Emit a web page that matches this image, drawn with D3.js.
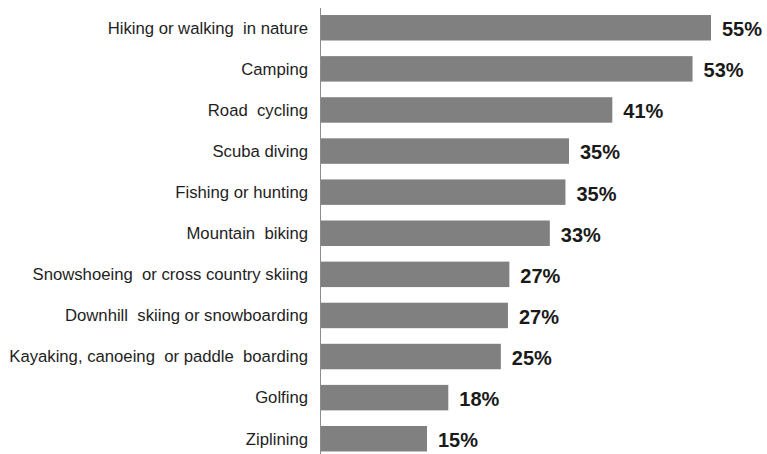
<!DOCTYPE html>
<html><head><meta charset="utf-8">
<script src="https://cdn.jsdelivr.net/npm/d3@7"></script>
<style>html,body{margin:0;padding:0;background:#fff;}svg{display:block;}</style>
</head><body>
<svg id="c" width="767" height="454"></svg>
<script>
const categories = ["Hiking or walking  in nature","Camping","Road  cycling","Scuba diving","Fishing or hunting","Mountain  biking","Snowshoeing  or cross country skiing","Downhill  skiing or snowboarding","Kayaking, canoeing  or paddle  boarding","Golfing","Ziplining"];
const values = [55, 52.4, 41.1, 35.0, 34.5, 32.3, 26.6, 26.4, 25.4, 18.0, 15.0];
const valueLabels = ["55%","53%","41%","35%","35%","33%","27%","27%","25%","18%","15%"];

const svg = d3.select("#c");
const x0 = 320.5;
const x = d3.scaleLinear().domain([0, 55]).range([x0, x0 + 390.5]);
const y = d3.scaleBand().domain(categories).range([2.7, 463.8]).paddingInner(0.38).paddingOuter(0.3);

svg.selectAll("rect.bar").data(values).enter().append("rect")
  .attr("x", x(0)).attr("y", (d,i)=>y(categories[i]))
  .attr("width", d=>x(d)-x(0)).attr("height", y.bandwidth())
  .attr("fill", "#808080");

svg.append("line").attr("x1", x0).attr("x2", x0).attr("y1", 8).attr("y2", 454)
  .attr("stroke", "#8c8c8c").attr("stroke-width", 1);

svg.selectAll("text.cat").data(categories).enter().append("text")
  .attr("x", 308).attr("y", d=>y(d)+y.bandwidth()/2)
  .attr("text-anchor", "end").attr("dy", "0.35em")
  .attr("font-family", "Liberation Sans, Arial, sans-serif").attr("font-size", 16.7)
  .attr("fill", "#1e1e1e").style("white-space","pre")
  .text(d=>d);

svg.selectAll("text.val").data(values).enter().append("text")
  .attr("x", d=>x(d)+11).attr("y", (d,i)=>y(categories[i])+y.bandwidth()/2)
  .attr("dy", "0.42em")
  .attr("font-family", "Liberation Sans, Arial, sans-serif").attr("font-size", 20).attr("font-weight", "bold")
  .attr("fill", "#1a1a1a")
  .text((d,i)=>valueLabels[i]);
</script>
</body></html>
